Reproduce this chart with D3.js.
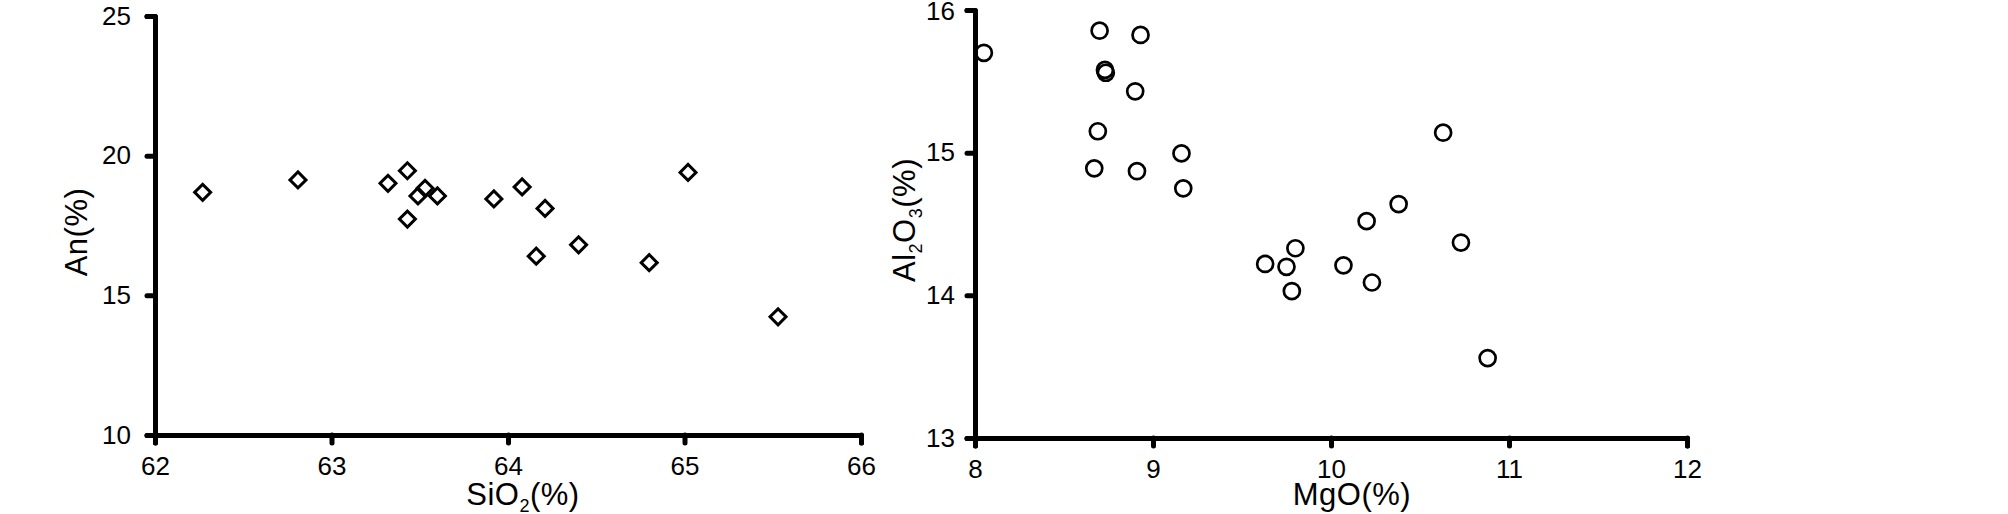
<!DOCTYPE html>
<html>
<head>
<meta charset="utf-8">
<script src="https://cdn.jsdelivr.net/npm/d3@7"></script>
<style>
  body { margin: 0; background: #fff; }
  svg { display: block; font-family: "Liberation Sans", Arial, sans-serif; }
  .axis path, .axis line { stroke: #000; stroke-width: 5; stroke-linecap: round; stroke-linejoin: round; fill: none; }
  .axis text { font-size: 26px; fill: #000; font-family: "Liberation Sans", Arial, sans-serif; }
  .axisLabel { font-size: 31px; fill: #000; letter-spacing: 0.5px; }
</style>
</head>
<body>
<svg width="2008" height="514"></svg>
<script>
var svg = d3.select('svg');

// left panel: SiO2 vs An
var siO2 = [62.27, 62.81, 63.32, 63.43, 63.43, 63.49, 63.53, 63.60, 63.92, 64.08, 64.21, 64.16, 64.40, 64.80, 65.02, 65.53];
var an   = [18.69, 19.13, 19.01, 19.46, 17.73, 18.56, 18.83, 18.56, 18.45, 18.88, 18.11, 16.40, 16.81, 16.17, 19.40, 14.23];
var siO2Ticks = [62, 63, 64, 65, 66];
var anTicks = [10, 15, 20, 25];

// right panel: MgO vs Al2O3
var mgO   = [8.05, 8.70, 8.93, 8.73, 8.735, 8.90, 8.69, 8.67, 8.91, 9.16, 9.17, 9.63, 9.75, 9.80, 9.78, 10.07, 10.20, 10.23, 10.38, 10.63, 10.73, 10.88];
var al2O3 = [15.70, 15.855, 15.825, 15.58, 15.56, 15.43, 15.15, 14.89, 14.87, 14.995, 14.75, 14.22, 14.20, 14.33, 14.03, 14.21, 14.52, 14.09, 14.64, 15.14, 14.37, 13.56];
var mgOTicks = [8, 9, 10, 11, 12];
var al2O3Ticks = [13, 14, 15, 16];

// Scales for the left panel
var xLeft = d3.scaleLinear().domain([62, 66]).range([155, 861]);
var yLeft = d3.scaleLinear().domain([10, 25]).range([435, 16]);

// Scales for the right panel
var xRight = d3.scaleLinear().domain([8, 12]).range([975, 1687]);
var yRight = d3.scaleLinear().domain([13, 16]).range([438, 10]);

// axes - left
svg.append('g')
    .attr('class', 'axis')
    .attr('transform', 'translate(0,435)')
    .call(d3.axisBottom(xLeft).tickValues(siO2Ticks).tickFormat(d3.format('d')).tickSize(8).tickPadding(14));

svg.append('g')
    .attr('class', 'axis')
    .attr('transform', 'translate(155,0)')
    .call(d3.axisLeft(yLeft).tickValues(anTicks).tickFormat(d3.format('d')).tickSize(8).tickPadding(16));

// axes - right
svg.append('g')
    .attr('class', 'axis')
    .attr('transform', 'translate(0,438)')
    .call(d3.axisBottom(xRight).tickValues(mgOTicks).tickFormat(d3.format('d')).tickSize(8).tickPadding(14));

svg.append('g')
    .attr('class', 'axis')
    .attr('transform', 'translate(975,0)')
    .call(d3.axisLeft(yRight).tickValues(al2O3Ticks).tickFormat(d3.format('d')).tickSize(8).tickPadding(12));

// top label of the right panel sits right at the edge, nudge it down a bit
svg.selectAll('.axis .tick text')
    .filter(function(d){ return d === 16; })
    .attr('dy', '0.36em');

// diamonds (rotated squares)
var diamond = d3.symbol().type(d3.symbolSquare).size(128);
svg.selectAll('.diamond')
    .data(siO2)
    .enter()
    .append('path')
    .attr('class', 'diamond')
    .attr('d', diamond)
    .attr('transform', function(d, i){
        return 'translate(' + xLeft(d) + ',' + yLeft(an[i]) + ')rotate(45)';
    })
    .style('fill', 'none')
    .style('stroke', '#000')
    .style('stroke-width', 3);

// circles
svg.selectAll('.circ')
    .data(mgO)
    .enter()
    .append('circle')
    .attr('class', 'circ')
    .attr('r', 8)
    .attr('cx', function(d){ return xRight(d); })
    .attr('cy', function(d, i){ return yRight(al2O3[i]); })
    .style('fill', 'none')
    .style('stroke', '#000')
    .style('stroke-width', 2.7);

// axis labels
function subLabel(g, parts) {
    parts.forEach(function(p){
        var t = g.append('tspan').text(p[0]);
        if (p[1]) t.attr('font-size', '18px').attr('dy', p[1]);
        if (p[2]) t.attr('dy', p[2]);
    });
}

var lx = svg.append('text')
    .attr('class', 'axisLabel')
    .attr('text-anchor', 'middle')
    .attr('x', 523)
    .attr('y', 505);
subLabel(lx, [['SiO'], ['2', 7], ['(%)', null, -7]]);

svg.append('text')
    .attr('class', 'axisLabel')
    .attr('text-anchor', 'middle')
    .attr('transform', 'translate(87,232)rotate(270)')
    .text('An(%)');

svg.append('text')
    .attr('class', 'axisLabel')
    .attr('text-anchor', 'middle')
    .attr('x', 1352)
    .attr('y', 505)
    .text('MgO(%)');

var ry = svg.append('text')
    .attr('class', 'axisLabel')
    .attr('text-anchor', 'middle')
    .attr('transform', 'translate(915,220)rotate(270)');
subLabel(ry, [['Al'], ['2', 7], ['O', null, -7], ['3', 7], ['(%)', null, -7]]);
</script>
</body>
</html>
